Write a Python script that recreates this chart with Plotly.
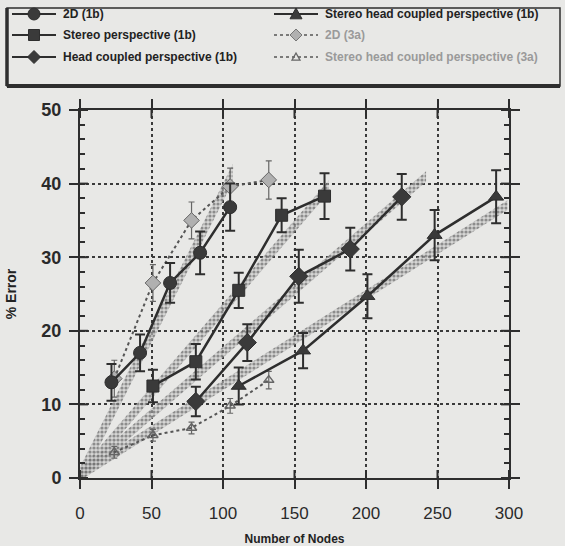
import plotly.graph_objects as go

# ---- measured series (percent error vs. number of nodes) ----
nodes_2d_1b = [22, 42, 63, 84, 105]
err_2d_1b = [13.0, 17.0, 26.5, 30.6, 36.8]
sd_2d_1b = [2.5, 2.5, 2.7, 2.9, 3.2]

nodes_sp_1b = [51, 81, 111, 141, 171]
err_sp_1b = [12.5, 15.8, 25.5, 35.7, 38.3]
sd_sp_1b = [2.2, 2.4, 2.4, 2.3, 3.1]

nodes_hc_1b = [81, 117, 153, 189, 225]
err_hc_1b = [10.4, 18.4, 27.4, 31.1, 38.2]
sd_hc_1b = [2.0, 2.5, 3.6, 2.9, 3.1]

nodes_shc_1b = [111, 156, 201, 248, 291]
err_shc_1b = [12.5, 17.3, 24.7, 33.0, 38.2]
sd_shc_1b = [2.5, 2.4, 3.0, 3.4, 3.6]

nodes_2d_3a = [24, 51, 78, 105, 132]
err_2d_3a = [13.5, 26.5, 35.0, 39.6, 40.5]
sd_2d_3a = [2.5, 2.5, 2.5, 2.5, 2.6]

nodes_shc_3a = [24, 51, 78, 105, 132]
err_shc_3a = [3.5, 5.8, 6.8, 9.8, 13.3]
sd_shc_3a = [0.8, 0.8, 0.8, 1.0, 1.2]

# ---- linear fit bands: slope, intercept, last node count, half width ----
fit_slope = [0.385, 0.226, 0.168, 0.123]
fit_icpt = [0.3, 0.3, 0.3, 0.3]
fit_xend = [107, 174, 242, 299]
fit_half = [1.2, 0.83, 0.72, 0.65]

x_ticks = [0, 50, 100, 150, 200, 250, 300]
y_ticks = [0, 10, 20, 30, 40, 50]

legend_labels = [
    "2D (1b)", "Stereo perspective (1b)", "Head coupled perspective (1b)",
    "Stereo head coupled perspective (1b)", "2D (3a)",
    "Stereo head coupled perspective (3a)",
]

INK = "#2e2e2e"
BG = "#e8e8e6"
W, H = 565, 546
L, R, T, B = 80, 56, 110, 68
PW, PH = W - L - R, H - T - B
NARROW = "Liberation Sans Narrow, Arial Narrow, sans-serif"
SANS = "Liberation Sans, Arial, sans-serif"


def px(xp):
    return (xp - L) / PW


def py(yp):
    return (H - B - yp) / PH


fig = go.Figure()

# stippled fit bands
for s, b, xe, hw in zip(fit_slope, fit_icpt, fit_xend, fit_half):
    fig.add_trace(go.Scatter(
        x=[0, xe, xe, 0, 0],
        y=[b - hw, s * xe + b - hw, s * xe + b + hw, b + hw, b - hw],
        mode="lines", fill="toself", line=dict(width=0),
        fillcolor="rgba(0,0,0,0)",
        fillpattern=dict(shape=".", fgcolor="#444", bgcolor="rgba(200,200,200,0.6)",
                         size=4, solidity=0.5),
        hoverinfo="skip", showlegend=False,
    ))

# dotted (3a) series
fig.add_trace(go.Scatter(
    x=nodes_2d_3a, y=err_2d_3a, mode="lines+markers",
    line=dict(color="#555", width=2, dash="dot"),
    marker=dict(symbol="diamond", size=12, color="#b0b0b0",
                line=dict(color="#666", width=1)),
    error_y=dict(type="data", array=sd_2d_3a, color="#666", thickness=1.2, width=3),
    showlegend=False,
))
fig.add_trace(go.Scatter(
    x=nodes_shc_3a, y=err_shc_3a, mode="lines+markers",
    line=dict(color="#555", width=2, dash="dot"),
    marker=dict(symbol="triangle-up-open", size=9, color="#666",
                line=dict(color="#666", width=1.5)),
    error_y=dict(type="data", array=sd_shc_3a, color="#666", thickness=1.2, width=3),
    showlegend=False,
))

# solid (1b) series
solid = [
    (nodes_2d_1b, err_2d_1b, sd_2d_1b, "circle", 13),
    (nodes_sp_1b, err_sp_1b, sd_sp_1b, "square", 12),
    (nodes_hc_1b, err_hc_1b, sd_hc_1b, "diamond", 14),
    (nodes_shc_1b, err_shc_1b, sd_shc_1b, "triangle-up", 13),
]
for xs, ys, sd, sym, sz in solid:
    fig.add_trace(go.Scatter(
        x=xs, y=ys, mode="lines+markers",
        line=dict(color=INK, width=2.5),
        marker=dict(symbol=sym, size=sz, color="#3a3a3a", line=dict(color=INK, width=1)),
        error_y=dict(type="data", array=sd, color=INK, thickness=2, width=5),
        showlegend=False,
    ))

shapes = []
# inner halves of the crossing major ticks
for v in x_ticks:
    shapes.append(dict(type="line", xref="x", yref="paper", ysizemode="pixel",
                       yanchor=0, x0=v, x1=v, y0=0, y1=8, line=dict(color=INK, width=2)))
    shapes.append(dict(type="line", xref="x", yref="paper", ysizemode="pixel",
                       yanchor=1, x0=v, x1=v, y0=0, y1=-8, line=dict(color=INK, width=2)))
for v in y_ticks:
    shapes.append(dict(type="line", yref="y", xref="paper", xsizemode="pixel",
                       xanchor=0, y0=v, y1=v, x0=0, x1=8, line=dict(color=INK, width=2)))
    shapes.append(dict(type="line", yref="y", xref="paper", xsizemode="pixel",
                       xanchor=1, y0=v, y1=v, x0=0, x1=-8, line=dict(color=INK, width=2)))

# legend frame with drop shadow on left and bottom
bx0, bx1, by0, by1 = 7, 560, 8, 86
shapes.append(dict(type="rect", xref="paper", yref="paper",
                   x0=px(bx0), x1=px(bx1), y0=py(by1), y1=py(by0),
                   line=dict(color=INK, width=1.5), fillcolor=BG, layer="above"))
shapes.append(dict(type="line", xref="paper", yref="paper",
                   x0=px(bx0), x1=px(bx1), y0=py(by1), y1=py(by1),
                   line=dict(color=INK, width=4), layer="above"))
shapes.append(dict(type="line", xref="paper", yref="paper",
                   x0=px(bx0), x1=px(bx0), y0=py(by1), y1=py(by0),
                   line=dict(color=INK, width=3.5), layer="above"))

annotations = []
rows = [14, 35, 57]
cols = [(12, 56, 34, 61), (274, 318, 296, 323)]
entries = [
    (0, 0, "circle", False), (0, 1, "square", False), (0, 2, "diamond", False),
    (1, 0, "triangle", False), (1, 1, "diamond", True), (1, 2, "triangle", True),
]


def marker_shape(kind, cx, cy, faint):
    fill = "#b0b0b0" if faint else "#3a3a3a"
    edge = "#777" if faint else INK
    base = dict(xref="paper", yref="paper", xsizemode="pixel", ysizemode="pixel",
                xanchor=px(cx), yanchor=py(cy), fillcolor=fill,
                line=dict(color=edge, width=1), layer="above")
    if kind == "circle":
        base.update(type="circle", x0=-6, x1=6, y0=-6, y1=6)
    elif kind == "square":
        base.update(type="rect", x0=-5.5, x1=5.5, y0=-5.5, y1=5.5)
    elif kind == "diamond":
        s = 6 if faint else 6.5
        base.update(type="path", path=f"M0,{s} L{s},0 L0,-{s} L-{s},0 Z")
    else:
        s = 4 if faint else 6
        base.update(type="path", path=f"M0,{s} L{s},-{s * 0.8} L-{s},-{s * 0.8} Z")
        if faint:
            base.update(fillcolor="rgba(0,0,0,0)", line=dict(color="#666", width=1.3))
    return base


for (c, r, kind, faint), label in zip(entries, legend_labels):
    lx0, lx1, mx, tx = cols[c]
    yy = rows[r]
    shapes.append(dict(type="line", xref="paper", yref="paper",
                       x0=px(lx0), x1=px(lx1), y0=py(yy), y1=py(yy), layer="above",
                       line=dict(color="#555" if faint else INK, width=1.5 if faint else 2,
                                 dash="dot" if faint else "solid")))
    shapes.append(marker_shape(kind, mx, yy, faint))
    annotations.append(dict(
        text=label, xref="paper", yref="paper", x=px(tx), y=py(yy),
        xanchor="left", yanchor="middle", showarrow=False,
        font=dict(family=NARROW, size=12, color="#9a9a9a" if faint else "#222",
                  weight="bold"),
    ))

axis_common = dict(
    showline=True, linecolor=INK, linewidth=2, mirror="allticks",
    ticks="outside", ticklen=9, tickwidth=2, tickcolor=INK,
    showgrid=True, gridcolor="#3a3a3a", gridwidth=1.5, griddash="dot",
    zeroline=False, automargin=False,
)

fig.update_layout(
    width=W, height=H,
    margin=dict(l=L, r=R, t=T, b=B),
    paper_bgcolor=BG, plot_bgcolor=BG,
    shapes=shapes, annotations=annotations,
    xaxis=dict(
        range=[0, 300], tickvals=x_ticks, **axis_common,
        tickfont=dict(family=SANS, size=17, color="#2a2a2a"),
        ticklabelstandoff=10,
        title=dict(text="Number of Nodes", standoff=13,
                   font=dict(family=NARROW, size=12, color="#222", weight="bold")),
    ),
    yaxis=dict(
        range=[0, 50], tickvals=y_ticks, **axis_common,
        minor=dict(dtick=2, ticks="inside", ticklen=5, tickwidth=1.5, tickcolor=INK,
                   showgrid=False),
        tickfont=dict(family=SANS, size=18, color="#2a2a2a", weight="bold"),
        ticklabelstandoff=4,
        title=dict(text="% Error", standoff=21,
                   font=dict(family=SANS, size=14, color="#222", weight="bold")),
    ),
)

fig.write_html("out.html")
